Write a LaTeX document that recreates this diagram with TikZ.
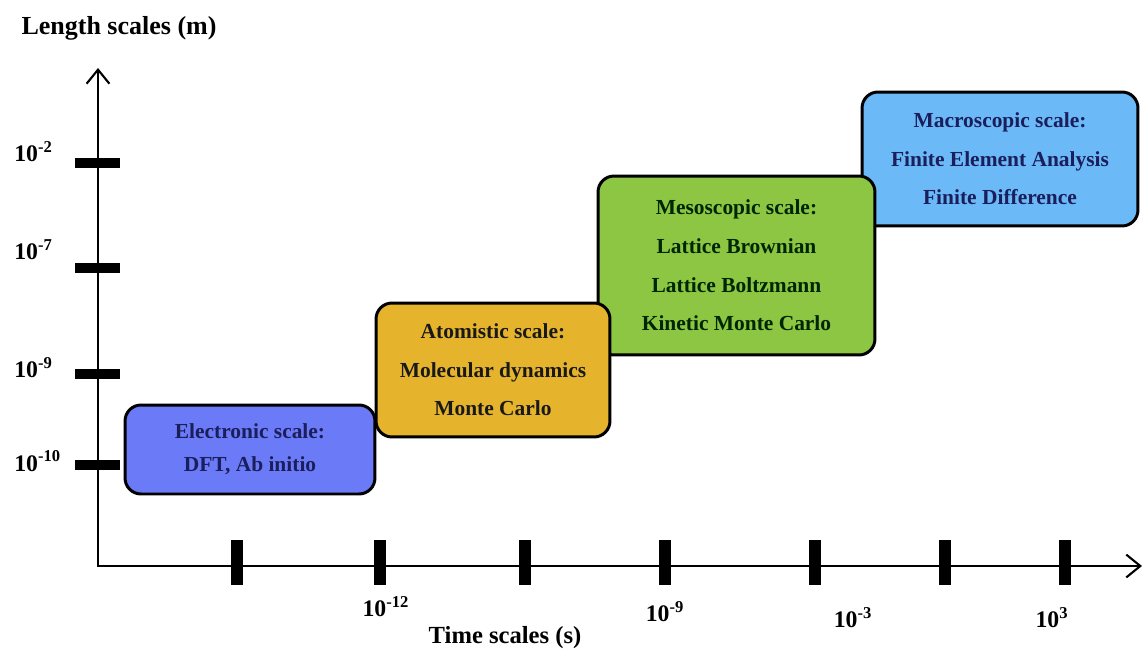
\documentclass[tikz,border=0pt]{standalone}
\usepackage{fontspec}
\setmainfont{Liberation Serif}
\usetikzlibrary{arrows.meta,positioning}
\definecolor{elecblue}{HTML}{6B7BF7}
\definecolor{atomgold}{HTML}{E6B42C}
\definecolor{mesogreen}{HTML}{8CC643}
\definecolor{macroblue}{HTML}{6CB9F7}
\definecolor{navytext}{HTML}{1A1F5C}

\begin{document}
\begin{tikzpicture}[x=0.02cm,y=-0.02cm,>={Straight Barb[length=8pt,width=13pt]},
  font=\bfseries\fontsize{12.2pt}{22pt}\selectfont]
\tikzstyle{methodbox}=[draw=black,line width=1.7pt,rounded corners=0.32cm,align=center,inner sep=0pt]
\tikzstyle{ticklabel}=[inner sep=0pt,font=\bfseries\fontsize{13.5pt}{16pt}\selectfont]

\useasboundingbox (0,0) rectangle (1144,653);

% axes
\coordinate (origin) at (98,566);
\coordinate (ytop) at (98,68);
\coordinate (xend) at (1142,566);
\draw[line width=1.2pt,<->] (ytop) -- (origin) -- (xend);

\node[font=\bfseries\fontsize{14.8pt}{18pt}\selectfont] (ytitle) at (119,28) {Length scales (m)};
\node[font=\bfseries\fontsize{14pt}{18pt}\selectfont] (xtitle) at (505,638) {Time scales (s)};

% ticks
\foreach \ty in {163,268,374,465}
  \fill (75,\ty-5) rectangle (120,\ty+5);
\foreach \tx in {237,380,525,665,815,945,1065}
  \fill (\tx-6,540) rectangle (\tx+6,585);

\node[ticklabel,anchor=west] (ym2) at (14,152) {10\textsuperscript{-2}};
\node[ticklabel,anchor=west] (ym7) at (14,250) {10\textsuperscript{-7}};
\node[ticklabel,anchor=west] (ym9) at (14,368) {10\textsuperscript{-9}};
\node[ticklabel,anchor=west] (ym10) at (14,461) {10\textsuperscript{-10}};

\node[ticklabel] (xm12) at (386,607) {10\textsuperscript{-12}};
\node[ticklabel] (xm9) at (665,612) {10\textsuperscript{-9}};
\node[ticklabel] (xm3) at (853,618) {10\textsuperscript{-3}};
\node[ticklabel] (xp3) at (1052,618) {10\textsuperscript{3}};

% scale boxes, back to front
\node[methodbox,fill=macroblue,text=navytext,minimum width=5.52cm,minimum height=2.68cm] (macro) at (1000,159)
  {Macroscopic scale:\\Finite Element Analysis\\Finite Difference};
\node[methodbox,fill=mesogreen,text=black!85!green,minimum width=5.54cm,minimum height=3.58cm] (meso) at (736.5,265.5)
  {Mesoscopic scale:\\Lattice Brownian\\Lattice Boltzmann\\Kinetic Monte Carlo};
\node[methodbox,fill=atomgold,text=black!90,minimum width=4.68cm,minimum height=2.68cm] (atom) at (493,370)
  {Atomistic scale:\\Molecular dynamics\\Monte Carlo};
\node[methodbox,fill=elecblue,text=navytext,minimum width=5cm,minimum height=1.78cm,
  font=\bfseries\fontsize{12.2pt}{19pt}\selectfont] (elec) at (250,449.5)
  {Electronic scale:\\DFT, Ab initio};
\end{tikzpicture}
\end{document}
